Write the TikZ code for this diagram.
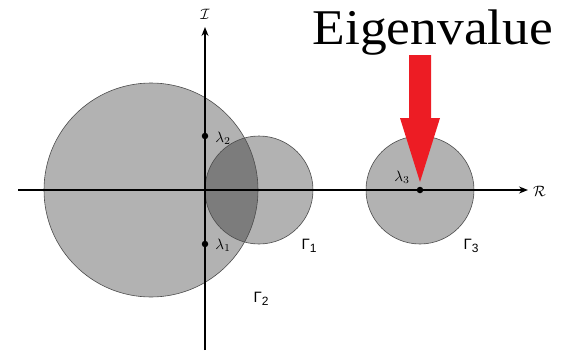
\documentclass[tikz,border=0pt]{standalone}
\usepackage{graphicx}
\usepackage{fontspec}
\newfontfamily\eigfont{Liberation Serif}
\newfontfamily\gamfont{Liberation Sans}
\usetikzlibrary{arrows.meta}
\definecolor{eigred}{HTML}{ED1C24}
\newcommand{\gsub}[1]{{\gamfont\fontsize{15}{15}\selectfont Γ\raisebox{-0.45ex}{\fontsize{12}{12}\selectfont #1}}}
\newcommand{\biglam}[1]{\scalebox{1.5}{$\lambda_{#1}$}}
\begin{document}
\begin{tikzpicture}[x=1pt,y=-1pt,
  axis/.style={line width=1.4pt,-{Stealth[length=9pt,width=7pt]}},
  dot/.style={circle,fill=black,inner sep=0pt,minimum size=6.5pt},
  gam/.style={inner sep=0pt},
  lam/.style={inner sep=0pt},
  ax/.style={inner sep=0pt}]
\useasboundingbox (0,0) rectangle (566,354);
% discs
\fill[black,opacity=0.3] (151,190) circle (107);
\fill[black,opacity=0.3] (259,190) circle (54);
\fill[black,opacity=0.3] (420,190) circle (54);
\draw[black!70,line width=0.6pt] (151,190) circle (107);
\draw[black!70,line width=0.6pt] (259,190) circle (54);
\draw[black!70,line width=0.6pt] (420,190) circle (54);
% axes
\coordinate (xs) at (18,190);
\coordinate (xe) at (528,190);
\coordinate (ys) at (205,350);
\coordinate (ye) at (205,27);
\draw[axis] (xs) -- (xe);
\draw[axis] (ys) -- (ye);
\node[ax,anchor=west] (R) at (533,191) {\scalebox{1.5}{$\mathcal{R}$}};
\node[ax] (I) at (205,14) {\scalebox{1.5}{$\mathcal{I}$}};
% eigenvalue points
\node[dot] (l1) at (205,244) {};
\node[dot] (l2) at (205,136) {};
\node[dot] (l3) at (420,190) {};
\node[lam] (L1) at (223,245) {\biglam{1}};
\node[lam] (L2) at (223,138) {\biglam{2}};
\node[lam] (L3) at (402,177) {\biglam{3}};
% circle labels
\node[gam] (G1) at (309,246) {\gsub{1}};
\node[gam] (G2) at (261,299) {\gsub{2}};
\node[gam] (G3) at (471,246) {\gsub{3}};
% red arrow
\fill[eigred] (409,55) -- (431,55) -- (431,118) -- (440,118) -- (420,182) -- (400,118) -- (409,118) -- cycle;
\node[font=\eigfont\fontsize{50}{50}\selectfont,xscale=1.07,anchor=base] (E) at (433,44) {Eigenvalue};
\end{tikzpicture}
\end{document}
